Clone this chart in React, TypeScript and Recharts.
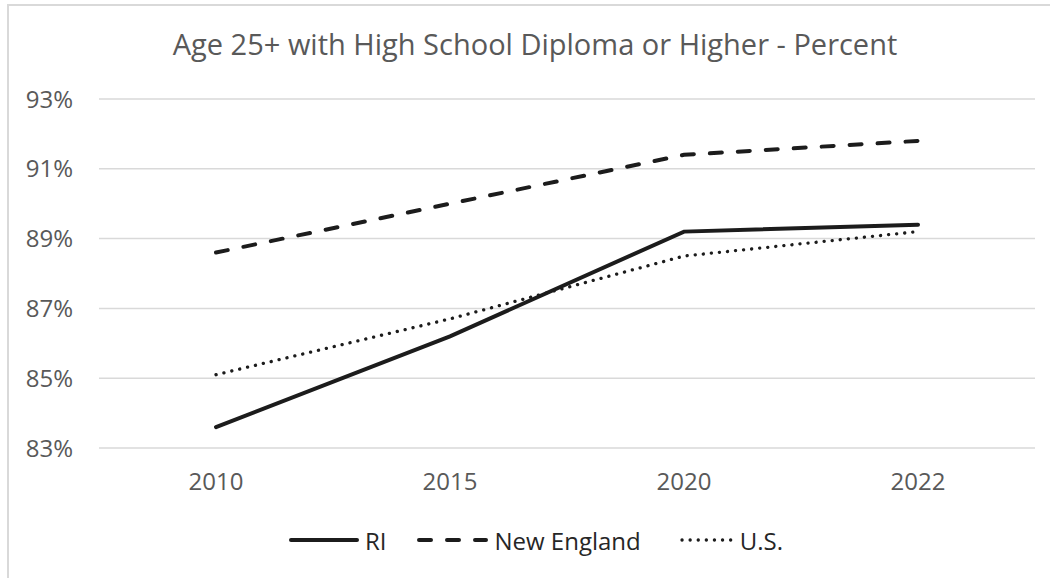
import { CartesianGrid, Legend, Line, LineChart, XAxis, YAxis } from "recharts";

const FONT = "'Open Sans', 'Noto Sans', sans-serif";
const INK = "#1c1c1c";
const GREY = "#595959";

const YEARS = ["2010", "2015", "2020", "2022"];
const RI = [83.6, 86.2, 89.2, 89.4];
const NEW_ENGLAND = [88.6, 90.0, 91.4, 91.8];
const US = [85.1, 86.7, 88.5, 89.2];
const Y_TICKS = [83, 85, 87, 89, 91, 93];

const data = YEARS.map((year, i) => ({
  year,
  ri: RI[i],
  ne: NEW_ENGLAND[i],
  us: US[i],
}));

// Line styles shared by the plot and the legend swatches.
const STYLES = {
  ri: { label: "RI", width: 4, dash: undefined as string | undefined, swatch: 70, gap: 0 },
  ne: { label: "New England", width: 4, dash: "12 16", swatch: 71, gap: 31 },
  us: { label: "U.S.", width: 3.3, dash: "0.1 8", swatch: 54, gap: 39 },
};

function LegendContent() {
  const keys = ["ri", "ne", "us"] as const;
  return (
    <div style={{ display: "flex", justifyContent: "center", alignItems: "center", height: 30, paddingLeft: 28, fontFamily: FONT, fontSize: 24, color: "#262626" }}>
      {keys.map((k) => {
        const s = STYLES[k];
        return (
          <div key={k} style={{ display: "flex", alignItems: "center", marginLeft: s.gap }}>
            <svg width={s.swatch} height={10} style={{ marginRight: 6 }}>
              <line x1={2} y1={5} x2={s.swatch - 2} y2={5} stroke={INK} strokeWidth={s.width}
                strokeDasharray={s.dash} strokeLinecap="round" />
            </svg>
            <span>{s.label}</span>
          </div>
        );
      })}
    </div>
  );
}

export default function App() {
  return (
    <div style={{ position: "absolute", left: 0, top: 0, width: 1050, height: 578, background: "#fff", overflow: "hidden" }}>
      {/* chart-area border (only top and left edges fall inside the frame) */}
      <div style={{ position: "absolute", left: 7, top: 4, width: 1100, height: 700, borderTop: "2px solid #d9d9d9", borderLeft: "2px solid #d9d9d9" }} />
      <div style={{ position: "absolute", left: 0, top: 24, width: 1070, textAlign: "center", fontFamily: FONT, fontSize: 29, color: GREY, lineHeight: "40px" }}>
        Age 25+ with High School Diploma or Higher - Percent
      </div>
      <div style={{ position: "absolute", left: 0, top: 0 }}>
        <LineChart width={1050} height={578} data={data} margin={{ top: 99, right: 15, bottom: 23, left: 9 }}>
          <CartesianGrid vertical={false} stroke="#d9d9d9" strokeWidth={1.5} />
          <XAxis dataKey="year" axisLine={false} tickLine={false} height={77} tickMargin={19}
            padding={{ left: 117, right: 117 }} tick={{ fontSize: 24, fill: GREY, fontFamily: FONT }} />
          <YAxis domain={[83, 93]} ticks={Y_TICKS} width={90} axisLine={false} tickLine={false} tickMargin={20}
            tickFormatter={(v: number) => `${v}%`} tick={{ fontSize: 24, fill: GREY, fontFamily: FONT }} />
          <Legend verticalAlign="bottom" height={30} content={<LegendContent />} />
          <Line dataKey="ri" stroke={INK} strokeWidth={STYLES.ri.width} dot={false} strokeLinecap="round" isAnimationActive={false} />
          <Line dataKey="ne" stroke={INK} strokeWidth={STYLES.ne.width} strokeDasharray={STYLES.ne.dash} strokeLinecap="round" dot={false} isAnimationActive={false} />
          <Line dataKey="us" stroke={INK} strokeWidth={STYLES.us.width} strokeDasharray={STYLES.us.dash} strokeLinecap="round" dot={false} isAnimationActive={false} />
        </LineChart>
      </div>
    </div>
  );
}
